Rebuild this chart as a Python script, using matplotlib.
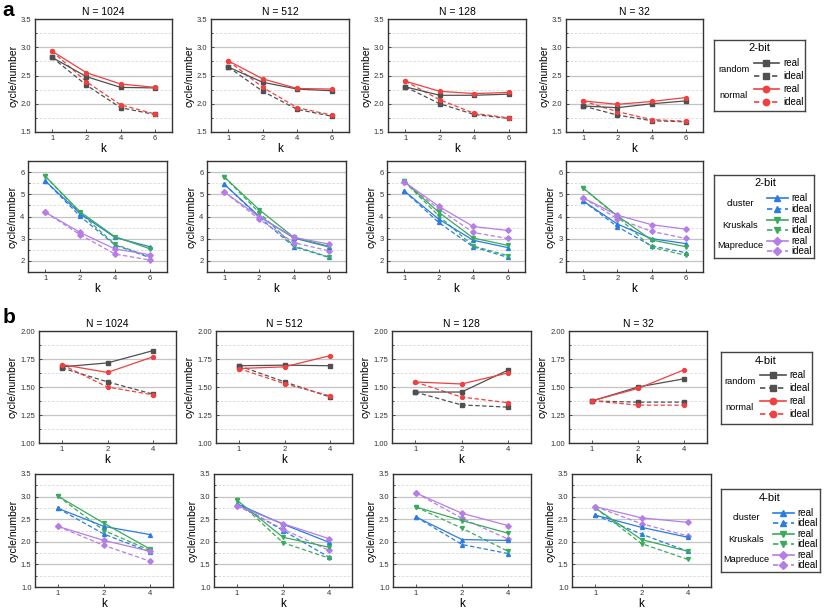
import numpy as np
import matplotlib.pyplot as plt
from matplotlib.ticker import MultipleLocator, FormatStrFormatter

plt.rcParams['font.family'] = ['Liberation Sans', 'DejaVu Sans']

# ---- data ----
titles = ["N = 1024", "N = 512", "N = 128", "N = 32"]
k_2bit = ["1", "2", "4", "6"]
k_4bit = ["1", "2", "4"]

# 2-bit, random / normal (one list per N)
a_random_real = [[2.82, 2.48, 2.29, 2.28], [2.65, 2.38, 2.26, 2.23],
                 [2.30, 2.15, 2.15, 2.17], [1.96, 1.93, 2.00, 2.05]]
a_random_ideal = [[2.82, 2.33, 1.93, 1.81], [2.65, 2.22, 1.90, 1.78],
                  [2.30, 2.00, 1.81, 1.74], [1.96, 1.80, 1.70, 1.68]]
a_normal_real = [[2.93, 2.55, 2.35, 2.29], [2.76, 2.44, 2.27, 2.26],
                 [2.40, 2.22, 2.18, 2.20], [2.05, 1.99, 2.04, 2.11]]
a_normal_ideal = [[2.93, 2.39, 1.98, 1.82], [2.76, 2.29, 1.93, 1.80],
                  [2.40, 2.07, 1.83, 1.75], [2.05, 1.86, 1.72, 1.69]]

# 2-bit, algorithms
a_cluster_real = [[5.60, 4.13, 3.06, 2.64], [5.45, 4.01, 3.03, 2.63],
                  [5.15, 3.88, 2.93, 2.60], [4.70, 3.66, 3.00, 2.78]]
a_cluster_ideal = [[5.60, 4.01, 2.72, 2.15], [5.45, 3.97, 2.64, 2.16],
                   [5.15, 3.73, 2.63, 2.16], [4.70, 3.54, 2.67, 2.37]]
a_kruskal_real = [[5.81, 4.21, 3.09, 2.55], [5.78, 4.31, 3.06, 2.66],
                  [5.58, 4.19, 3.03, 2.70], [5.28, 4.03, 2.94, 2.64]]
a_kruskal_ideal = [[5.81, 4.16, 2.75, 2.19], [5.78, 4.18, 2.67, 2.18],
                   [5.58, 4.03, 2.67, 2.24], [5.28, 3.99, 2.61, 2.25]]
a_mapred_real = [[4.19, 3.28, 2.54, 2.28], [5.10, 3.99, 3.06, 2.76],
                 [5.56, 4.46, 3.55, 3.37], [4.84, 4.06, 3.63, 3.43]]
a_mapred_ideal = [[4.19, 3.18, 2.31, 2.04], [5.10, 3.88, 2.82, 2.46],
                  [5.55, 4.34, 3.28, 3.01], [4.84, 3.90, 3.33, 3.01]]

# 4-bit, random / normal
b_random_real = [[1.68, 1.715, 1.825], [1.69, 1.695, 1.69],
                 [1.455, 1.455, 1.65], [1.375, 1.50, 1.573]]
b_random_ideal = [[1.67, 1.546, 1.436], [1.69, 1.546, 1.41],
                  [1.455, 1.34, 1.32], [1.375, 1.365, 1.365]]
b_normal_real = [[1.70, 1.63, 1.77], [1.665, 1.68, 1.78],
                 [1.545, 1.527, 1.625], [1.377, 1.487, 1.653]]
b_normal_ideal = [[1.70, 1.50, 1.43], [1.665, 1.53, 1.42],
                  [1.545, 1.41, 1.36], [1.377, 1.338, 1.338]]

# 4-bit, algorithms
b_cluster_real = [[2.74, 2.34, 2.16], [2.84, 2.39, 1.99],
                  [2.55, 2.05, 2.03], [2.59, 2.32, 2.10]]
b_cluster_ideal = [[2.74, 2.17, 1.78], [2.84, 2.25, 1.66],
                   [2.55, 1.94, 1.74], [2.59, 2.17, 1.79]]
b_kruskal_real = [[3.01, 2.41, 1.84], [2.92, 2.10, 1.88],
                  [2.77, 2.47, 2.19], [2.75, 2.05, 1.79]]
b_kruskal_ideal = [[3.01, 2.25, 1.81], [2.92, 1.98, 1.64],
                   [2.77, 2.30, 1.79], [2.75, 1.96, 1.61]]
b_mapred_real = [[2.34, 2.03, 1.79], [2.80, 2.40, 2.07],
                 [3.08, 2.63, 2.36], [2.78, 2.53, 2.43]]
b_mapred_ideal = [[2.34, 1.92, 1.57], [2.80, 2.28, 1.81],
                  [3.08, 2.52, 2.06], [2.78, 2.40, 2.13]]

# ---- style ----
GRAY = '#505050'
RED = '#f23f3f'
BLUE = '#2a7de1'
GREEN = '#3aaa5c'
PURPLE = '#b57ee6'
DASH = (0, (3.5, 2))

W, H = 830, 612
fig = plt.figure(figsize=(8.3, 6.12), dpi=100)


def px_axes(l, t, r, b):
    return fig.add_axes([l / W, 1 - b / H, (r - l) / W, (b - t) / H])


def style(ax, k, ylim, major, minor, fmt):
    ax.set_xlim(-0.5, len(k) - 0.5)
    ax.set_xticks(range(len(k)))
    ax.set_xticklabels(k)
    ax.set_ylim(*ylim)
    ax.yaxis.set_major_locator(MultipleLocator(major))
    ax.yaxis.set_minor_locator(MultipleLocator(minor))
    ax.yaxis.set_major_formatter(FormatStrFormatter(fmt))
    ax.grid(axis='y', which='major', color='#c4c4c4', lw=0.9)
    ax.grid(axis='y', which='minor', color='#d8d8d8', lw=0.6, ls=(0, (3, 2)))
    ax.set_axisbelow(True)
    ax.tick_params(which='both', labelsize=5.5, direction='in', width=0.6,
                   colors='#333333', pad=2.5)
    ax.tick_params(which='major', length=2)
    ax.tick_params(which='minor', length=1.2)
    for s in ax.spines.values():
        s.set_color('#333333')
        s.set_linewidth(1.0)
    ax.set_xlabel('k', fontsize=8.5, labelpad=0.5)
    ax.set_ylabel('cycle/number', fontsize=7.5, labelpad=2)


def series(ax, y, color, marker, dashed):
    x = np.arange(len(y))
    ax.plot(x, y, color=color, lw=0.9, ls=DASH if dashed else '-',
            marker=marker, ms=2.8, mec=color, mfc=color)


rows = [
    # top, bottom, lefts, rights
    (19, 132, [35, 211, 388, 566], [172, 349, 526, 703]),
    (161, 272, [28, 207, 387, 566], [167, 346, 525, 703]),
    (331, 443, [39, 216, 392, 569], [176, 353, 531, 707]),
    (474, 587, [35, 214, 393, 572], [173, 352, 531, 711]),
]

for i in range(4):
    # row 1: 2-bit random/normal
    t, b, ls_, rs_ = rows[0]
    ax = px_axes(ls_[i], t, rs_[i], b)
    style(ax, k_2bit, (1.5, 3.5), 0.5, 0.25, '%.1f')
    series(ax, a_random_ideal[i], GRAY, 's', True)
    series(ax, a_normal_ideal[i], RED, 'o', True)
    series(ax, a_random_real[i], GRAY, 's', False)
    series(ax, a_normal_real[i], RED, 'o', False)
    ax.set_title(titles[i], fontsize=7.5, pad=3)

    # row 2: 2-bit algorithms
    t, b, ls_, rs_ = rows[1]
    ax = px_axes(ls_[i], t, rs_[i], b)
    style(ax, k_2bit, (1.5, 6.5), 1, 0.5, '%d')
    series(ax, a_cluster_ideal[i], BLUE, '^', True)
    series(ax, a_kruskal_ideal[i], GREEN, 'v', True)
    series(ax, a_mapred_ideal[i], PURPLE, 'D', True)
    series(ax, a_cluster_real[i], BLUE, '^', False)
    series(ax, a_kruskal_real[i], GREEN, 'v', False)
    series(ax, a_mapred_real[i], PURPLE, 'D', False)

    # row 3: 4-bit random/normal
    t, b, ls_, rs_ = rows[2]
    ax = px_axes(ls_[i], t, rs_[i], b)
    style(ax, k_4bit, (1.0, 2.0), 0.25, 0.125, '%.2f')
    series(ax, b_random_ideal[i], GRAY, 's', True)
    series(ax, b_normal_ideal[i], RED, 'o', True)
    series(ax, b_random_real[i], GRAY, 's', False)
    series(ax, b_normal_real[i], RED, 'o', False)
    ax.set_title(titles[i], fontsize=7.5, pad=3)

    # row 4: 4-bit algorithms
    t, b, ls_, rs_ = rows[3]
    ax = px_axes(ls_[i], t, rs_[i], b)
    style(ax, k_4bit, (1.0, 3.5), 0.5, 0.25, '%.1f')
    series(ax, b_cluster_ideal[i], BLUE, '^', True)
    series(ax, b_kruskal_ideal[i], GREEN, 'v', True)
    series(ax, b_mapred_ideal[i], PURPLE, 'D', True)
    series(ax, b_cluster_real[i], BLUE, '^', False)
    series(ax, b_kruskal_real[i], GREEN, 'v', False)
    series(ax, b_mapred_real[i], PURPLE, 'D', False)


# ---- legends (drawn in pixel coordinates of their own box) ----
def legend_box(box, title, title_xy, groups, gx, entries, ys, hx, tx):
    l, t, r, b = box
    lax = px_axes(l, t, r, b)
    lax.set_xlim(l, r)
    lax.set_ylim(b, t)
    lax.set_xticks([])
    lax.set_yticks([])
    for s in lax.spines.values():
        s.set_color('#444444')
        s.set_linewidth(1.0)
    lax.text(title_xy[0], title_xy[1], title, ha='center', va='center', fontsize=8)
    for name, gy in groups:
        lax.text(gx, gy, name, ha='center', va='center', fontsize=6.7)
    for (color, marker, dashed, label), y in zip(entries, ys):
        lax.plot([hx[0], hx[2]], [y, y], color=color, lw=1.2,
                 ls=(0, (3.2, 2.2)) if dashed else '-')
        lax.plot([hx[1]], [y], marker=marker, color=color,
                 ms=3.8 if marker == 'D' else 4.6)
        lax.text(tx, y, label, ha='left', va='center', fontsize=7)


rn_entries = [(GRAY, 's', False, 'real'), (GRAY, 's', True, 'ideal'),
              (RED, 'o', False, 'real'), (RED, 'o', True, 'ideal')]
alg_entries = [(BLUE, '^', False, 'real'), (BLUE, '^', True, 'ideal'),
               (GREEN, 'v', False, 'real'), (GREEN, 'v', True, 'ideal'),
               (PURPLE, 'D', False, 'real'), (PURPLE, 'D', True, 'ideal')]

legend_box((714, 40, 805, 111), '2-bit', (759, 48),
           [('random', 70), ('normal', 96)], 734,
           rn_entries, [63, 76, 89, 102], (754, 766, 779), 783)
legend_box((714, 175, 814, 258), '2-bit', (765, 183),
           [('cluster', 203), ('Kruskals', 225), ('Mapreduce', 246)], 740,
           alg_entries, [198, 209, 220, 230, 241, 251], (767, 777, 788), 791)
legend_box((721, 352, 812, 424), '4-bit', (766, 361),
           [('random', 381), ('normal', 407)], 740,
           rn_entries, [375, 388, 401, 414], (760, 773, 786), 789)
legend_box((721, 489, 820, 572), '4-bit', (770, 498),
           [('cluster', 518), ('Kruskals', 539), ('Mapreduce', 560)], 746,
           alg_entries, [513, 523, 534, 544, 555, 565], (773, 783, 794), 797)

fig.text(2 / W, 1 - 16 / H, 'a', fontsize=15, fontweight='bold', va='baseline')
fig.text(3 / W, 1 - 323 / H, 'b', fontsize=15, fontweight='bold', va='baseline')

fig.savefig('out.png', dpi=100)
